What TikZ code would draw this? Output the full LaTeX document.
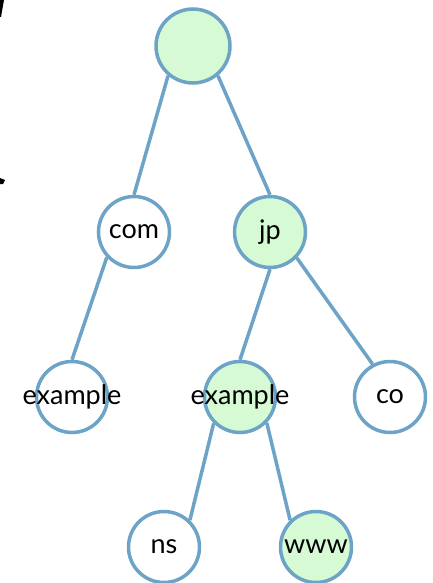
\documentclass[tikz,border=0pt]{standalone}
\usepackage{fontspec}
\setmainfont{Lato}
\definecolor{ringBlue}{RGB}{108, 163, 198}
\definecolor{leafGreen}{RGB}{214, 250, 212}
\newcommand{\wide}[1]{\makebox[0pt]{#1}}
\tikzset{
  dom/.style={circle, draw=ringBlue, line width=3.5pt, fill=white,
    minimum size=71pt, inner sep=0pt, font=\fontsize{27}{30}\selectfont},
  hit/.style={dom, fill=leafGreen},
  link/.style={ringBlue, line width=3.5pt}
}
\begin{document}
\begin{tikzpicture}[x=1pt, y=-1pt]
        \useasboundingbox (0,0) rectangle (432,583);

        % bits of a neighbouring picture, cut off at the edge
        \fill (0,0) -- (4,0) -- (1,17) -- (0,17) -- cycle;
        \fill (0,178) -- (5,180) -- (3,184) -- (0,184) -- cycle;

        \node[hit, minimum size=74pt] (root) at (193,46) {};
        \node[dom] (com) at (134,232) {com};
        \node[hit] (jp) at (270,232) {jp};
        \node[dom] (exA) at (72,397) {\wide{example}};
        \node[hit] (exB) at (240,397) {\wide{example}};
        \node[dom] (co) at (390,397) {co};
        \node[dom] (ns) at (164,547) {ns};
        \node[hit] (www) at (316,547) {www};

        \draw[link] (root.230) -- (com.north);
        \draw[link] (root.-50) -- (jp.north);
        \draw[link] (com.-137) -- (exA.north);
        \draw[link] (jp.south) -- (exB.north);
        \draw[link] (jp.-44) -- (co.118);
        \draw[link] (exB.-135) -- (ns.46);
        \draw[link] (exB.-44) -- (www.134);
      \end{tikzpicture}
\end{document}
